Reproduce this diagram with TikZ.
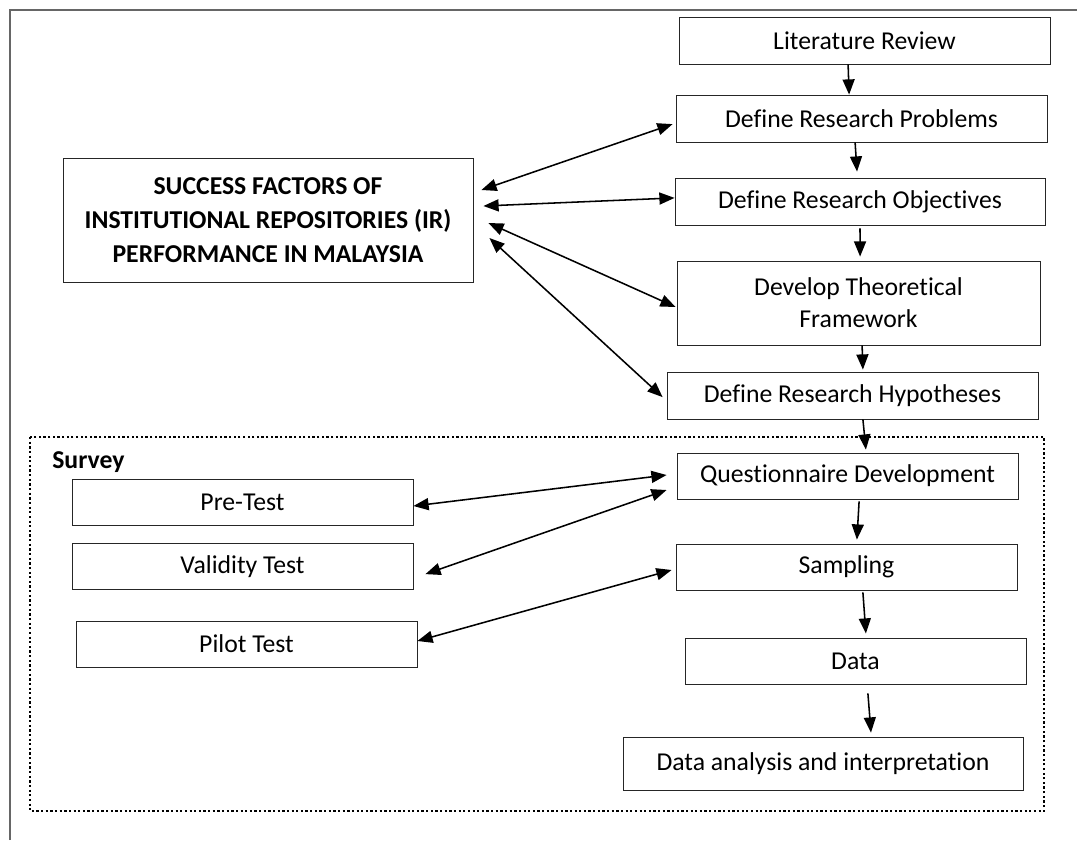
\documentclass[tikz,border=0pt]{standalone}
\usepackage{fontspec}
\setmainfont{Carlito}[Ligatures=NoCommon]
\usetikzlibrary{arrows.meta, positioning}

\begin{document}
\begin{tikzpicture}[
    box/.style={rectangle, draw=black!85, line width=0.6pt, minimum width=9.275cm,
        minimum height=1.175cm, font=\fontsize{18.3}{22.8}\selectfont, align=center, inner sep=2pt},
    small/.style={minimum width=8.525cm, minimum height=1.15cm},
    arr/.style={-{Triangle[length=0.38cm, width=0.3cm]}, line width=1.1pt},
    darr/.style={{Triangle[length=0.38cm, width=0.3cm]}-{Triangle[length=0.38cm, width=0.3cm]}, line width=1.1pt},
    tag/.style={font=\fontsize{18.3}{20}\selectfont\bfseries, inner sep=0pt},
]
\useasboundingbox (0,0) rectangle (26.925,-21);
% page frame and survey area
\draw[black!60, line width=0.8pt] (0.25,-21) -- (0.25,-0.25) -- (26.925,-0.25);
\draw[line width=0.9pt, dash pattern=on 1.6pt off 1.7pt] (0.75,-10.925) rectangle (26.1,-20.275);
\node[tag, anchor=west] (survey) at (1.3,-11.55) {Survey};
% main column
\node[box] (lit) at (21.6125,-1.0125) {Literature Review};
\node[box] (prob) at (21.5375,-2.9625) {Define Research Problems};
\node[box, minimum width=9.25cm] (obj) at (21.5,-5.0375) {Define Research Objectives};
\node[box, minimum width=9.075cm, minimum height=2.1cm] (frame) at (21.4625,-7.575) {Develop Theoretical\\Framework};
\node[box] (hyp) at (21.3125,-9.8875) {Define Research Hypotheses};
\node[box, small] (quest) at (21.1875,-11.9) {Questionnaire Development};
\node[box, small] (samp) at (21.1625,-14.175) {Sampling};
\node[box, small] (data) at (21.3875,-16.525) {Data};
\node[box, minimum width=10cm, minimum height=1.325cm] (anal) at (20.575,-19.0875) {Data analysis and interpretation};
% title
\node[box, minimum width=10.25cm, minimum height=3.1cm, font=\fontsize{18.3}{24.2}\selectfont\bfseries] (sf) at (6.7,-5.5)
    {SUCCESS FACTORS OF\\INSTITUTIONAL REPOSITORIES (IR)\\PERFORMANCE IN MALAYSIA};
% survey tests
\foreach \n/\x/\y/\t in {pre/6.0625/-12.55/Pre-Test, valid/6.0625/-14.1625/Validity Test, pilot/6.1625/-16.1/Pilot Test} {
    \node[box, small] (\n) at (\x,\y) {\t};
}
% flow
\draw[arr] ([xshift=-0.41cm]lit.south) -- ([xshift=-0.31cm]prob.north);
\draw[arr] ([xshift=-0.16cm]prob.south) -- ([xshift=-0.075cm, yshift=0.15cm]obj.north);
\draw[arr] ([yshift=-0.075cm]obj.south) -- ([xshift=0.04cm, yshift=0.1cm]frame.north);
\draw[arr] ([xshift=0.09cm]frame.south) -- ([xshift=0.26cm, yshift=0.05cm]hyp.north);
\draw[arr] ([xshift=0.26cm]hyp.south) -- ([xshift=0.46cm, yshift=0.075cm]quest.north);
\draw[arr] ([xshift=0.29cm, yshift=-0.05cm]quest.south) -- ([xshift=0.26cm, yshift=0.1cm]samp.north);
\draw[arr] ([xshift=0.41cm, yshift=-0.05cm]samp.south) -- ([xshift=0.26cm, yshift=0.1cm]data.north);
\draw[arr] ([xshift=0.31cm, yshift=-0.225cm]data.south) -- ([xshift=1.2cm, yshift=0.1cm]anal.north);
% links to the title
\draw[darr] ([xshift=0.2cm, yshift=0.75cm]sf.east) -- ([xshift=-0.075cm, yshift=-0.14cm]prob.west);
\draw[darr] ([xshift=0.25cm, yshift=0.35cm]sf.east) -- ([yshift=0.09cm]obj.west);
\draw[darr] ([xshift=0.375cm, yshift=-0.075cm]sf.east) -- ([xshift=-0.025cm, yshift=-0.1cm]frame.west);
\draw[darr] ([xshift=0.4cm, yshift=-0.45cm]sf.east) -- ([xshift=-0.1cm, yshift=-0.04cm]hyp.west);
% links to the tests
\draw[darr] ([yshift=-0.1cm]pre.east) -- ([xshift=-0.25cm, yshift=0.025cm]quest.west);
\draw[darr] ([xshift=0.3cm, yshift=-0.19cm]valid.east) -- ([xshift=-0.25cm, yshift=-0.35cm]quest.west);
\draw[darr] ([yshift=0.075cm]pilot.east) -- ([xshift=-0.1cm, yshift=-0.075cm]samp.west);
\end{tikzpicture}
\end{document}
